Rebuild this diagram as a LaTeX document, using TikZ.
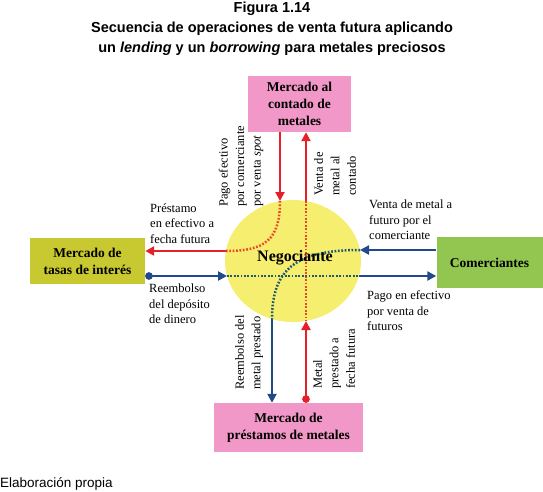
\documentclass[tikz,border=0pt]{standalone}
\usepackage{fontspec}
\setmainfont{Liberation Serif}
\newfontfamily\sansfont{Liberation Sans}
\usetikzlibrary{arrows.meta,shapes.geometric}
\definecolor{rosa}{RGB}{242,152,200}
\definecolor{oliva}{RGB}{200,200,48}
\definecolor{verde}{RGB}{146,198,80}
\definecolor{amarillo}{RGB}{246,238,110}
\definecolor{rojo}{RGB}{228,32,40}
\definecolor{azul}{RGB}{32,74,140}
\definecolor{rojopunto}{RGB}{236,70,40}
\definecolor{azulpunto}{RGB}{30,90,110}
\begin{document}
\begin{tikzpicture}[x=1pt,y=-1pt,
  mercado/.style={inner sep=0pt,align=center,font=\fontsize{13.5}{17}\selectfont\bfseries},
  flecharoja/.style={draw=rojo,line width=2.7pt,-{Triangle[length=9pt,width=9pt]}},
  flechaazul/.style={draw=azul,line width=2.7pt,-{Triangle[length=9pt,width=9pt]}},
  punteado/.style={line width=2.5pt,dash pattern=on 1.7pt off 1.7pt},
  etiqueta/.style={align=left,inner sep=0pt,font=\fontsize{12.5}{15.5}\selectfont},
  vertical/.style={etiqueta,rotate=90,anchor=west,font=\fontsize{12.5}{16.5}\selectfont}]

\useasboundingbox (0,0) rectangle (543,492);

\node[font=\sansfont\bfseries\fontsize{14.5}{20}\selectfont,align=center,inner sep=0pt] (titulo) at (272,29)
  {Figura 1.14\\Secuencia de operaciones de venta futura aplicando\\un \textit{lending} y un \textit{borrowing} para metales preciosos};

\node[mercado,fill=rosa,minimum width=103pt,minimum height=56pt] (contado) at (299.5,104) {Mercado al\\contado de\\metales};
\node[mercado,fill=oliva,minimum width=115pt,minimum height=46pt] (tasas) at (87.5,261) {Mercado de\\tasas de interés};
\node[mercado,fill=verde,minimum width=106pt,minimum height=51pt] (comerciantes) at (489.5,262.5) {Comerciantes};
\node[mercado,fill=rosa,minimum width=149pt,minimum height=49pt] (prestamos) at (288.5,427.5) {Mercado de\\préstamos de metales};
\node[ellipse,fill=amarillo,minimum width=136pt,minimum height=122pt,inner sep=0pt] (negociante) at (293,261) {};

\coordinate (rojoA) at (280,201);
\coordinate (rojoB) at (226,251);
\coordinate (rojoC) at (306,201);
\coordinate (rojoD) at (306,321);
\coordinate (azulA) at (360,250);
\coordinate (azulB) at (272,319);
\coordinate (azulC) at (227,276);
\coordinate (azulD) at (359,276);

\draw[punteado,rojopunto] (rojoA) .. controls (280,240) and (265,251) .. (rojoB);
\draw[punteado,rojopunto] (rojoC) -- (rojoD);
\draw[punteado,azulpunto] (azulA) .. controls (295,250) and (272,270) .. (azulB);
\draw[punteado,azulpunto] (azulC) -- (azulD);

\node[font=\fontsize{16}{18}\selectfont\bfseries,inner sep=0pt] (nombre) at (295,258) {Negociante};

\draw[flecharoja] (contado.south -| rojoA) -- (rojoA);
\draw[flecharoja] (rojoB) -- (tasas.east |- rojoB);
\draw[flecharoja] (rojoC) -- (contado.south -| rojoC);
\draw[flecharoja,{Circle[length=7.5pt]}-{Triangle[length=9pt,width=9pt]}] (prestamos.north -| rojoD) -- (rojoD);
\draw[flechaazul] (comerciantes.west |- azulA) -- (azulA);
\draw[flechaazul] (azulB) -- (prestamos.north -| azulB);
\draw[flechaazul,{Circle[length=7.5pt]}-{Triangle[length=9pt,width=9pt]}] (tasas.east |- azulC) -- (azulC);
\draw[flechaazul] (azulD) -- (comerciantes.west |- azulD);

\node[etiqueta,anchor=west] (prestamo) at (150,223.5) {Préstamo\\en efectivo a\\fecha futura};
\node[etiqueta,anchor=west] (deposito) at (149,304) {Reembolso\\del depósito\\de dinero};
\node[etiqueta,anchor=west] (ventafuturo) at (369,220) {Venta de metal a\\futuro por el\\comerciante};
\node[etiqueta,anchor=west] (pagofuturos) at (367,311) {Pago en efectivo\\por venta de\\futuros};
\node[vertical] (pagospot) at (241,207) {Pago efectivo\\por comerciante\\por venta \textit{spot}};
\node[vertical] (ventacontado) at (335,196) {Venta de\\metal al\\contado};
\node[vertical] (reembolsometal) at (249,390) {Reembolso del\\metal prestado};
\node[vertical] (metalprestado) at (334,389) {Metal\\prestado a\\fecha futura};

\node[anchor=west,inner sep=0pt,font=\sansfont\fontsize{13.5}{16}\selectfont] (fuente) at (0,484) {Elaboración propia};

\end{tikzpicture}
\end{document}
